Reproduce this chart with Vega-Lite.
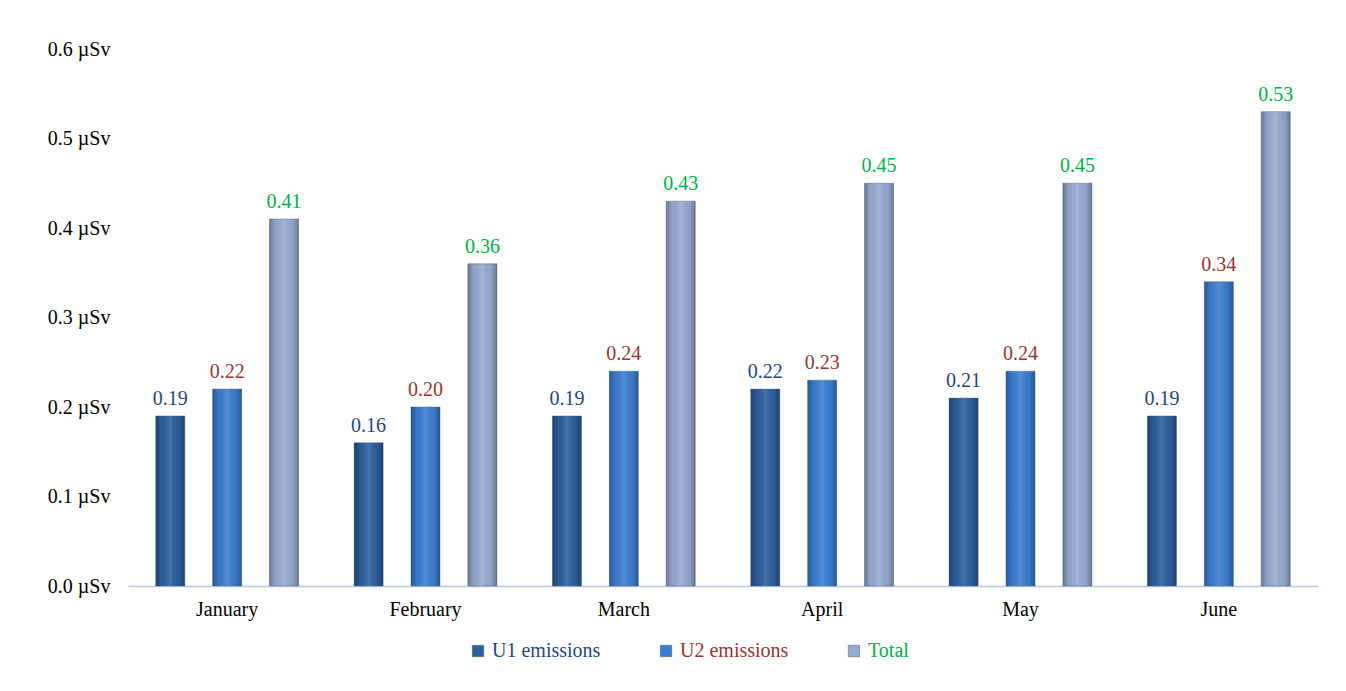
{
  "$schema": "https://vega.github.io/schema/vega-lite/v6.json",
  "autosize": "none",
  "width": 1190,
  "height": 537,
  "padding": {"left": 128, "top": 49, "right": 28, "bottom": 105},
  "background": "white",
  "config": {
    "font": "Liberation Serif",
    "view": {"stroke": null},
    "axis": {"labelFont": "Liberation Serif", "labelColor": "#000000", "grid": false, "ticks": false}
  },
  "data": {
    "values": [
      {"month": "January", "series": "U1 emissions", "value": 0.19},
      {"month": "January", "series": "U2 emissions", "value": 0.22},
      {"month": "January", "series": "Total", "value": 0.41},
      {"month": "February", "series": "U1 emissions", "value": 0.16},
      {"month": "February", "series": "U2 emissions", "value": 0.20},
      {"month": "February", "series": "Total", "value": 0.36},
      {"month": "March", "series": "U1 emissions", "value": 0.19},
      {"month": "March", "series": "U2 emissions", "value": 0.24},
      {"month": "March", "series": "Total", "value": 0.43},
      {"month": "April", "series": "U1 emissions", "value": 0.22},
      {"month": "April", "series": "U2 emissions", "value": 0.23},
      {"month": "April", "series": "Total", "value": 0.45},
      {"month": "May", "series": "U1 emissions", "value": 0.21},
      {"month": "May", "series": "U2 emissions", "value": 0.24},
      {"month": "May", "series": "Total", "value": 0.45},
      {"month": "June", "series": "U1 emissions", "value": 0.19},
      {"month": "June", "series": "U2 emissions", "value": 0.34},
      {"month": "June", "series": "Total", "value": 0.53}
    ]
  },
  "encoding": {
    "x": {
      "field": "month", "type": "nominal", "sort": null,
      "scale": {"paddingInner": 0.28, "paddingOuter": 0.14},
      "axis": {"title": null, "labelAngle": 0, "labelFontSize": 20, "labelPadding": 13, "domainColor": "#b4cbe6", "domainWidth": 1.5}
    },
    "xOffset": {
      "field": "series", "type": "nominal", "sort": ["U1 emissions", "U2 emissions", "Total"],
      "scale": {"paddingInner": 0.49, "paddingOuter": 0}
    },
    "y": {
      "field": "value", "type": "quantitative",
      "scale": {"domain": [0, 0.6], "nice": false},
      "axis": {"title": null, "values": [0, 0.1, 0.2, 0.3, 0.4, 0.5, 0.6], "labelExpr": "format(datum.value, '.1f') + ' µSv'", "labelFontSize": 20, "labelPadding": 18, "domain": false}
    }
  },
  "layer": [
    {
      "mark": {"type": "bar", "stroke": "#5d6f86", "strokeOpacity": 0.5, "strokeWidth": 1},
      "encoding": {
        "color": {
          "field": "series", "type": "nominal", "sort": ["U1 emissions", "U2 emissions", "Total"],
          "scale": {"domain": ["U1 emissions", "U2 emissions", "Total"], "range": ["#2b5e9c", "#3b7ed1", "#98abd2"]},
          "legend": {
            "title": null, "orient": "none", "legendX": 340, "legendY": 592, "direction": "horizontal",
            "symbolType": "square", "symbolSize": 130, "symbolStrokeColor": "#555555", "symbolStrokeWidth": 0.5,
            "labelFontSize": 20, "labelFont": "Liberation Serif", "columnPadding": 55, "labelOffset": 4,
            "encode": {"labels": {"update": {"fill": {"signal": "datum.label === 'U1 emissions' ? '#1f497d' : datum.label === 'U2 emissions' ? '#953735' : '#00b050'"}}}}
          }
        }
      }
    },
    {
      "mark": {
        "type": "bar",
        "fill": {
          "gradient": "linear", "x1": 0, "x2": 1, "y1": 0, "y2": 0,
          "stops": [
            {"offset": 0, "color": "rgba(0,0,0,0.30)"},
            {"offset": 0.2, "color": "rgba(0,0,0,0.05)"},
            {"offset": 0.5, "color": "rgba(255,255,255,0.12)"},
            {"offset": 0.8, "color": "rgba(0,0,0,0.05)"},
            {"offset": 1, "color": "rgba(0,0,0,0.30)"}
          ]
        }
      }
    },
    {
      "mark": {"type": "text", "baseline": "bottom", "dy": -7, "fontSize": 20, "font": "Liberation Serif"},
      "encoding": {
        "text": {"field": "value", "type": "quantitative", "format": ".2f"},
        "color": {
          "condition": [
            {"test": "datum.series === 'U1 emissions'", "value": "#1f497d"},
            {"test": "datum.series === 'U2 emissions'", "value": "#953735"}
          ],
          "value": "#00b050"
        }
      }
    }
  ]
}
